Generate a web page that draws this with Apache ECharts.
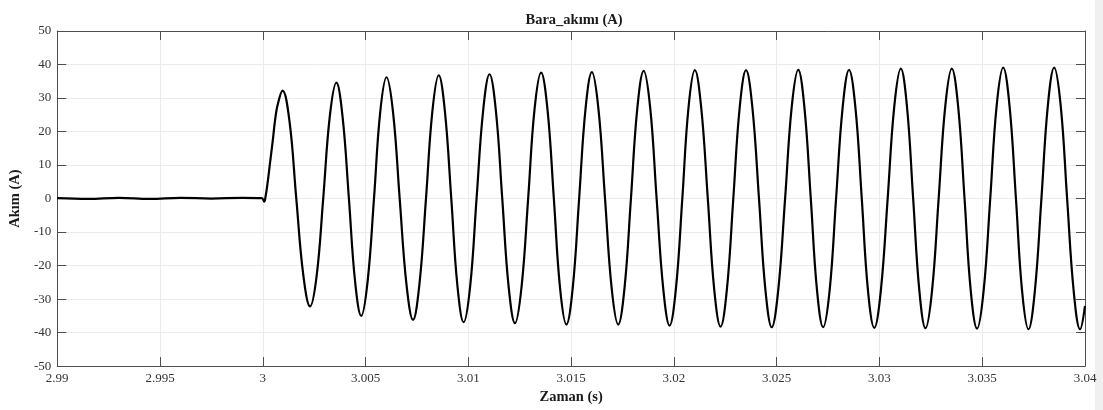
<!DOCTYPE html>
<html>
<head>
<meta charset="utf-8">
<script src="https://cdn.jsdelivr.net/npm/echarts@6/dist/echarts.min.js"></script>
<style>
html,body{margin:0;padding:0;background:#fff;}
#c{width:1103px;height:410px;}
</style>
</head>
<body>
<div id="c"></div>
<script>
// Tick labels
var xTicks = [2.99, 2.995, 3, 3.005, 3.01, 3.015, 3.02, 3.025, 3.03, 3.035, 3.04];
var yTicks = [-50, -40, -30, -20, -10, 0, 10, 20, 30, 40, 50];

// Time (s) samples
var timeS = [
2.990, 2.9915, 2.993, 2.9945, 2.996, 2.9975, 2.999, 2.99995,
3.00007, 3.00013, 3.00023, 3.00035, 3.00048, 3.00060, 3.00072, 3.00096,
3.00130, 3.00163, 3.00197, 3.00230,
3.00262, 3.00294, 3.00326, 3.00358,
3.00388, 3.00419, 3.00449, 3.00479,
3.00510, 3.00541, 3.00571, 3.00602,
3.00634, 3.00666, 3.00699, 3.00731,
3.00762, 3.00794, 3.00825, 3.00856,
3.00886, 3.00917, 3.00947, 3.00977,
3.01009, 3.01040, 3.01072, 3.01103,
3.01134, 3.01165, 3.01196, 3.01227,
3.01259, 3.01291, 3.01322, 3.01354,
3.01385, 3.01416, 3.01446, 3.01477,
3.01508, 3.01539, 3.01570, 3.01601,
3.01633, 3.01665, 3.01697, 3.01729,
3.01760, 3.01791, 3.01822, 3.01853,
3.01885, 3.01916, 3.01948, 3.01979,
3.02010, 3.02041, 3.02071, 3.02102,
3.02133, 3.02165, 3.02196, 3.02227,
3.02258, 3.02289, 3.02320, 3.02351,
3.02382, 3.02414, 3.02445, 3.02476,
3.02508, 3.02541, 3.02573, 3.02605,
3.02635, 3.02666, 3.02696, 3.02726,
3.02758, 3.02789, 3.02821, 3.02852,
3.02883, 3.02914, 3.02944, 3.02975,
3.03007, 3.03040, 3.03072, 3.03104,
3.03134, 3.03164, 3.03194, 3.03224,
3.03256, 3.03288, 3.03320, 3.03352,
3.03383, 3.03414, 3.03444, 3.03475,
3.03507, 3.03539, 3.03570, 3.03602,
3.03633, 3.03664, 3.03694, 3.03725,
3.03756, 3.03788, 3.03819, 3.03850,
3.03882, 3.03913, 3.03945, 3.03976,
3.04000
];

// Current (A) samples
var currentA = [
0.1, -0.1, 0.2, -0.1, 0.2, 0.0, 0.2, 0.1,
-0.9, 0.4, 4.5, 10.5, 17, 23.5, 27.9, 32.2,
23.0, 0, -22.8, -32.2,
-23.1, 0, 24.5, 34.6,
24.5, 0, -24.7, -35.0,
-24.7, 0, 25.6, 36.2,
25.6, 0, -25.6, -36.2,
-25.6, 0, 26.0, 36.8,
26.0, 0, -26.1, -36.9,
-26.1, 0, 26.2, 37.1,
26.2, 0, -26.3, -37.2,
-26.3, 0, 26.6, 37.6,
26.6, 0, -26.6, -37.6,
-26.6, 0, 26.7, 37.7,
26.7, 0, -26.6, -37.6,
-26.6, 0, 26.9, 38.1,
26.9, 0, -26.8, -37.9,
-26.8, 0, 27.1, 38.3,
27.1, 0, -27.0, -38.2,
-27.0, 0, 27.1, 38.3,
27.1, 0, -27.1, -38.4,
-27.1, 0, 27.2, 38.4,
27.2, 0, -27.2, -38.4,
-27.2, 0, 27.2, 38.4,
27.2, 0, -27.3, -38.6,
-27.3, 0, 27.4, 38.8,
27.4, 0, -27.4, -38.7,
-27.4, 0, 27.4, 38.8,
27.4, 0, -27.4, -38.8,
-27.4, 0, 27.6, 39.1,
27.6, 0, -27.6, -39.0,
-27.6, 0, 27.6, 39.1,
27.6, 0, -27.6, -39.0,
-32.0
];

var seriesData = timeS.map(function (t, k) { return [t, currentA[k]]; });

var FONT = '"Liberation Serif", "DejaVu Serif", serif';
var axisColor = '#4d4d4d';
var gridColor = '#ebebeb';

function fmtX(v) { return String(parseFloat(v.toFixed(4))); }

var xStep = +(xTicks[1] - xTicks[0]).toFixed(4);
var yStep = yTicks[1] - yTicks[0];

var chart = echarts.init(document.getElementById('c'), null, {renderer: 'canvas'});
chart.setOption({
  animation: false,
  backgroundColor: '#ffffff',
  title: {
    text: 'Bara_akımı (A)',
    left: 569, top: 8, textAlign: 'center',
    textStyle: {fontFamily: FONT, fontWeight: 'bold', fontSize: 14.5, color: '#1a1a1a'}
  },
  grid: {left: 54, right: 18, top: 31, bottom: 37, containLabel: false},
  xAxis: [{
    type: 'value', position: 'bottom',
    min: xTicks[0], max: xTicks[xTicks.length - 1], interval: xStep,
    name: 'Zaman (s)', nameLocation: 'middle', nameGap: 22,
    nameTextStyle: {fontFamily: FONT, fontWeight: 'bold', fontSize: 14.5, color: '#1a1a1a'},
    axisLine: {show: true, onZero: false, lineStyle: {color: axisColor, width: 1}},
    axisTick: {show: true, inside: true, length: 9, lineStyle: {color: axisColor}},
    axisLabel: {fontFamily: FONT, fontSize: 13, color: '#333', margin: 6, formatter: fmtX},
    splitLine: {show: true, lineStyle: {color: gridColor, width: 1}}
  }, {
    type: 'value', position: 'top',
    min: xTicks[0], max: xTicks[xTicks.length - 1], interval: xStep,
    axisLine: {show: true, onZero: false, lineStyle: {color: axisColor, width: 1}},
    axisTick: {show: true, inside: true, length: 9, lineStyle: {color: axisColor}},
    axisLabel: {show: false},
    splitLine: {show: false}
  }],
  yAxis: [{
    type: 'value', position: 'left',
    min: yTicks[0], max: yTicks[yTicks.length - 1], interval: yStep,
    name: 'Akım (A)', nameLocation: 'middle', nameGap: 30, nameRotate: 90,
    nameTextStyle: {fontFamily: FONT, fontWeight: 'bold', fontSize: 14.5, color: '#1a1a1a'},
    axisLine: {show: true, onZero: false, lineStyle: {color: axisColor, width: 1}},
    axisTick: {show: true, inside: true, length: 9, lineStyle: {color: axisColor}},
    axisLabel: {fontFamily: FONT, fontSize: 13, color: '#333', margin: 6},
    splitLine: {show: true, lineStyle: {color: gridColor, width: 1}}
  }, {
    type: 'value', position: 'right',
    min: yTicks[0], max: yTicks[yTicks.length - 1], interval: yStep,
    axisLine: {show: true, onZero: false, lineStyle: {color: axisColor, width: 1}},
    axisTick: {show: true, inside: true, length: 9, lineStyle: {color: axisColor}},
    axisLabel: {show: false},
    splitLine: {show: false}
  }],
  graphic: [{
    type: 'rect', right: 0, top: 0,
    shape: {width: 8, height: 410},
    style: {fill: '#f0f0f0'},
    silent: true
  }],
  series: [{
    type: 'line',
    xAxisIndex: 0, yAxisIndex: 0,
    data: seriesData,
    smooth: 0.4,
    showSymbol: false,
    lineStyle: {color: '#000000', width: 2.2},
    clip: true
  }]
});
</script>
</body>
</html>
